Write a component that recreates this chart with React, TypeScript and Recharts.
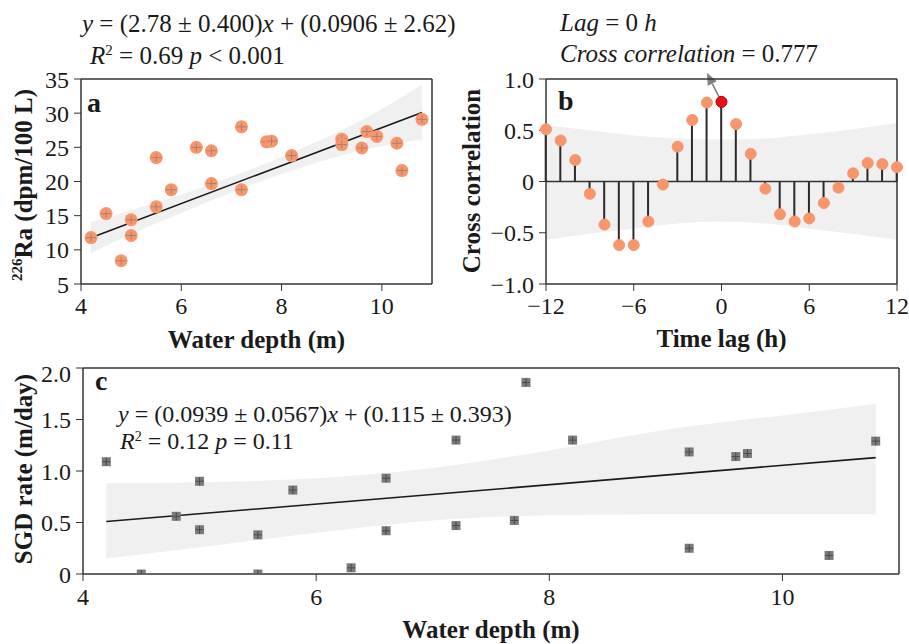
import React from "react";
import {
  ComposedChart,
  Scatter,
  Line,
  Area,
  Bar,
  XAxis,
  YAxis,
  ReferenceLine,
  Cell,
} from "recharts";

const FONT = '"Liberation Serif", "Times New Roman", serif';

// panel a: 226Ra vs water depth
const depthA = [4.2, 4.5, 4.8, 5.0, 5.0, 5.5, 5.5, 5.8, 6.3, 6.6, 6.6, 7.2, 7.2, 7.7, 7.8, 8.2, 9.2, 9.2, 9.6, 9.7, 9.9, 10.3, 10.4, 10.8];
const ra226 = [11.8, 15.3, 8.4, 14.4, 12.1, 23.5, 16.3, 18.8, 25.0, 24.5, 19.7, 28.0, 18.8, 25.8, 25.9, 23.8, 26.2, 25.4, 24.9, 27.3, 26.6, 25.6, 21.6, 29.1];
const fitAx = [4.2, 10.8];
const fitAy = [11.77, 30.11];
const bandAx = [4.2, 5, 6, 7, 8, 9, 10, 10.8];
const bandAlo = [9.5, 12.3, 15.4, 18.4, 21.1, 23.4, 25.2, 26.1];
const bandAhi = [14.1, 15.8, 18.1, 20.7, 23.6, 26.8, 30.6, 34.2];

// panel b: cross correlation by time lag
const lags = [-12, -11, -10, -9, -8, -7, -6, -5, -4, -3, -2, -1, 0, 1, 2, 3, 4, 5, 6, 7, 8, 9, 10, 11, 12];
const ccf = [0.51, 0.4, 0.21, -0.12, -0.42, -0.62, -0.62, -0.39, -0.03, 0.34, 0.6, 0.77, 0.777, 0.56, 0.27, -0.07, -0.32, -0.39, -0.36, -0.21, -0.06, 0.08, 0.18, 0.17, 0.14];
const bandBx = [-12, -9, -6, -3, 0, 3, 6, 9, 12];
const bandBlo = [-0.57, -0.51, -0.46, -0.41, -0.39, -0.41, -0.46, -0.51, -0.57];
const bandBhi = [0.55, 0.5, 0.45, 0.42, 0.41, 0.42, 0.46, 0.51, 0.57];

// panel c: SGD rate vs water depth
const depthC = [4.2, 4.5, 4.8, 5.0, 5.0, 5.5, 5.5, 5.8, 6.3, 6.6, 6.6, 7.2, 7.2, 7.7, 7.8, 8.2, 9.2, 9.2, 9.6, 9.7, 10.4, 10.8];
const sgd = [1.09, 0.0, 0.56, 0.9, 0.43, 0.38, 0.0, 0.815, 0.06, 0.93, 0.42, 1.3, 0.47, 0.52, 1.86, 1.3, 1.185, 0.25, 1.14, 1.17, 0.18, 1.29];
const fitCx = [4.2, 10.8];
const fitCy = [0.51, 1.13];
const bandCx = [4.2, 5, 6, 7, 8, 9, 10, 10.8];
const bandClo = [0.15, 0.26, 0.4, 0.52, 0.57, 0.58, 0.58, 0.58];
const bandChi = [0.88, 0.89, 0.93, 1.03, 1.2, 1.4, 1.54, 1.65];

const ptsA = depthA.map((x, i) => ({ x, y: ra226[i] }));
const lineA = fitAx.map((x, i) => ({ x, y: fitAy[i] }));
const areaA = bandAx.map((x, i) => ({ x, band: [bandAlo[i], bandAhi[i]] }));
const lagRows = lags.map((lag, i) => ({ lag, r: ccf[i] }));
const areaB = bandBx.map((lag, i) => ({ lag, band: [bandBlo[i], bandBhi[i]] }));
const ptsC = depthC.map((x, i) => ({ x, y: sgd[i] }));
const lineC = fitCx.map((x, i) => ({ x, y: fitCy[i] }));
const areaC = bandCx.map((x, i) => ({ x, band: [bandClo[i], bandChi[i]] }));

const ORANGE = "#f8966b";
const AX = "#333";
const BAND = "#f0f0f0";
const tickStyle = { fill: "#1a1a1a", fontSize: 24, fontFamily: FONT };
const minus = (v: number) => (v < 0 ? "\u2212" + Math.abs(v) : String(v));

const OrangeDot = (p: any) => (
  <g>
    <circle cx={p.cx} cy={p.cy} r={6.5} fill={ORANGE} />
    <line x1={p.cx - 5} x2={p.cx + 5} y1={p.cy} y2={p.cy} stroke="#a88070" strokeWidth={1} />
    <line x1={p.cx} x2={p.cx} y1={p.cy - 4} y2={p.cy + 4} stroke="#a88070" strokeWidth={1} />
  </g>
);

const GraySquare = (p: any) => (
  <g>
    <rect x={p.cx - 4.5} y={p.cy - 4.5} width={9} height={9} fill="#7b7b7b" />
    <line x1={p.cx - 4} x2={p.cx + 4} y1={p.cy} y2={p.cy} stroke="#4a4a4a" strokeWidth={1} />
    <line x1={p.cx} x2={p.cx} y1={p.cy - 4} y2={p.cy + 4} stroke="#4a4a4a" strokeWidth={1} />
  </g>
);

const LagDot = (p: any) => (
  <circle cx={p.cx} cy={p.cy} r={5.5} fill={p.fill} stroke={p.stroke} strokeWidth={1} />
);

const Arrow = (p: any) => {
  const { x1, y1, x2, y2 } = p;
  const a = Math.atan2(y2 - y1, x2 - x1);
  const bx = x2 - 12 * Math.cos(a);
  const by = y2 - 12 * Math.sin(a);
  const s = Math.sin(a);
  const c = Math.cos(a);
  return (
    <g>
      <line x1={x1} y1={y1} x2={bx} y2={by} stroke="#808080" strokeWidth={1.6} />
      <polygon
        points={`${x2},${y2} ${bx + 5 * s},${by - 5 * c} ${bx - 5 * s},${by + 5 * c}`}
        fill="#808080"
      />
    </g>
  );
};

const App = () => {
  return (
    <div
      style={{
        position: "absolute",
        left: 0,
        top: 0,
        width: 909,
        height: 644,
        background: "#fff",
        fontFamily: FONT,
      }}
    >
      {/* a */}
      <div style={{ position: "absolute", left: 0, top: 0 }}>
        <ComposedChart width={450} height={360} margin={{ top: 79, right: 18, bottom: 0, left: 0 }}>
          <XAxis
            dataKey="x"
            type="number"
            domain={[4, 11]}
            ticks={[4, 6, 8, 10]}
            height={76}
            tickSize={7}
            tickMargin={6}
            axisLine={{ stroke: AX, strokeWidth: 1.5 }}
            tickLine={{ stroke: AX }}
            tick={tickStyle}
          />
          <YAxis
            dataKey="y"
            type="number"
            domain={[5, 35]}
            ticks={[5, 10, 15, 20, 25, 30, 35]}
            width={81}
            tickSize={7}
            tickMargin={5}
            axisLine={{ stroke: AX, strokeWidth: 1.5 }}
            tickLine={{ stroke: AX }}
            tick={tickStyle}
          />
          <Area data={areaA} dataKey="band" type="monotone" fill={BAND} fillOpacity={1} stroke="none" isAnimationActive={false} />
          <Line data={lineA} dataKey="y" stroke="#1a1a1a" strokeWidth={1.6} dot={false} isAnimationActive={false} />
          <Scatter data={ptsA} shape={OrangeDot} isAnimationActive={false} />
          <ReferenceLine y={35} stroke={AX} strokeWidth={1.5} />
          <ReferenceLine x={11} stroke={AX} strokeWidth={1.5} />
        </ComposedChart>
      </div>

      {/* b */}
      <div style={{ position: "absolute", left: 450, top: 0 }}>
        <ComposedChart width={459} height={360} data={lagRows} margin={{ top: 79, right: 12, bottom: 0, left: 0 }}>
          <XAxis
            dataKey="lag"
            type="number"
            domain={[-12, 12]}
            ticks={[-12, -6, 0, 6, 12]}
            tickFormatter={minus}
            height={76}
            tickSize={7}
            tickMargin={6}
            axisLine={{ stroke: AX, strokeWidth: 1.5 }}
            tickLine={{ stroke: AX }}
            tick={tickStyle}
          />
          <YAxis
            dataKey="r"
            type="number"
            domain={[-1, 1]}
            ticks={[-1, -0.5, 0, 0.5, 1]}
            tickFormatter={(v: number) => (v === 0 ? "0" : (v < 0 ? "\u2212" : "") + Math.abs(v).toFixed(1))}
            width={96}
            tickSize={7}
            tickMargin={5}
            axisLine={{ stroke: AX, strokeWidth: 1.5 }}
            tickLine={{ stroke: AX }}
            tick={tickStyle}
          />
          <Area data={areaB} dataKey="band" type="monotone" fill={BAND} fillOpacity={1} stroke="none" isAnimationActive={false} />
          <ReferenceLine y={0} stroke={AX} strokeWidth={1.5} />
          <Bar dataKey="r" barSize={2} fill="#2a2a2a" isAnimationActive={false} />
          <Scatter data={lagRows} shape={LagDot} isAnimationActive={false}>
            {lagRows.map((row) => (
              <Cell
                key={row.lag}
                fill={row.lag === 0 ? "#e8101a" : ORANGE}
                stroke={row.lag === 0 ? "#b00000" : ORANGE}
              />
            ))}
          </Scatter>
          <ReferenceLine
            segment={[{ x: 0, y: 0.777 }, { x: -1, y: 1.06 }]}
            ifOverflow="visible"
            shape={Arrow}
          />
          <ReferenceLine y={1} stroke={AX} strokeWidth={1.5} />
          <ReferenceLine x={12} stroke={AX} strokeWidth={1.5} />
        </ComposedChart>
      </div>

      {/* c */}
      <div style={{ position: "absolute", left: 0, top: 360 }}>
        <ComposedChart width={909} height={284} margin={{ top: 8, right: 10, bottom: 0, left: 0 }}>
          <XAxis
            dataKey="x"
            type="number"
            domain={[4, 11]}
            ticks={[4, 6, 8, 10]}
            height={70}
            tickSize={7}
            tickMargin={7}
            axisLine={{ stroke: AX, strokeWidth: 1.5 }}
            tickLine={{ stroke: AX }}
            tick={tickStyle}
          />
          <YAxis
            dataKey="y"
            type="number"
            domain={[0, 2]}
            allowDataOverflow
            ticks={[0, 0.5, 1, 1.5, 2]}
            tickFormatter={(v: number) => (v === 0 ? "0" : v.toFixed(1))}
            width={83}
            tickSize={7}
            tickMargin={5}
            axisLine={{ stroke: AX, strokeWidth: 1.5 }}
            tickLine={{ stroke: AX }}
            tick={tickStyle}
          />
          <Area data={areaC} dataKey="band" type="monotone" fill={BAND} fillOpacity={1} stroke="none" isAnimationActive={false} />
          <Line data={lineC} dataKey="y" stroke="#1a1a1a" strokeWidth={1.6} dot={false} isAnimationActive={false} />
          <Scatter data={ptsC} shape={GraySquare} isAnimationActive={false} />
          <ReferenceLine y={2} stroke={AX} strokeWidth={1.5} />
          <ReferenceLine x={11} stroke={AX} strokeWidth={1.5} />
        </ComposedChart>
      </div>

      {/* text overlay */}
      <svg
        width={909}
        height={644}
        style={{ position: "absolute", left: 0, top: 0, pointerEvents: "none" }}
        fontFamily={FONT}
        fill="#1a1a1a"
      >
        <text x={82} y={32} fontSize={25}>
          <tspan fontStyle="italic">y</tspan> = (2.78 ± 0.400)<tspan fontStyle="italic">x</tspan> + (0.0906 ± 2.62)
        </text>
        <text x={90} y={64} fontSize={25}>
          <tspan fontStyle="italic">R</tspan>
          <tspan fontSize={15} dy={-9}>2</tspan>
          <tspan dy={9}> = 0.69 </tspan>
          <tspan fontStyle="italic">p</tspan> &lt; 0.001
        </text>
        <text x={560} y={31} fontSize={25}>
          <tspan fontStyle="italic">Lag</tspan> = 0 <tspan fontStyle="italic">h</tspan>
        </text>
        <text x={560} y={62} fontSize={25}>
          <tspan fontStyle="italic">Cross correlation</tspan> = 0.777
        </text>
        <text x={118} y={422} fontSize={24}>
          <tspan fontStyle="italic">y</tspan> = (0.0939 ± 0.0567)<tspan fontStyle="italic">x</tspan> + (0.115 ± 0.393)
        </text>
        <text x={120} y={449} fontSize={24}>
          <tspan fontStyle="italic">R</tspan>
          <tspan fontSize={14} dy={-8}>2</tspan>
          <tspan dy={8}> = 0.12 </tspan>
          <tspan fontStyle="italic">p</tspan> = 0.11
        </text>

        <text x={87} y={112} fontSize={28} fontWeight="bold">a</text>
        <text x={558} y={110} fontSize={28} fontWeight="bold">b</text>
        <text x={95} y={390} fontSize={28} fontWeight="bold">c</text>

        <text x={256.5} y={348} fontSize={25} fontWeight="bold" textAnchor="middle">Water depth (m)</text>
        <text x={721.5} y={347} fontSize={25} fontWeight="bold" textAnchor="middle">Time lag (h)</text>
        <text x={491} y={638} fontSize={25} fontWeight="bold" textAnchor="middle">Water depth (m)</text>
        <text transform="translate(32,185) rotate(-90)" fontSize={25} fontWeight="bold" textAnchor="middle">
          <tspan fontSize={15} dy={-10}>226</tspan>
          <tspan dy={10}>Ra (dpm/100 L)</tspan>
        </text>
        <text transform="translate(480,181) rotate(-90)" fontSize={25} fontWeight="bold" textAnchor="middle">
          Cross correlation
        </text>
        <text transform="translate(32,469) rotate(-90)" fontSize={25} fontWeight="bold" textAnchor="middle">
          SGD rate (m/day)
        </text>
      </svg>
    </div>
  );
};

export default App;
